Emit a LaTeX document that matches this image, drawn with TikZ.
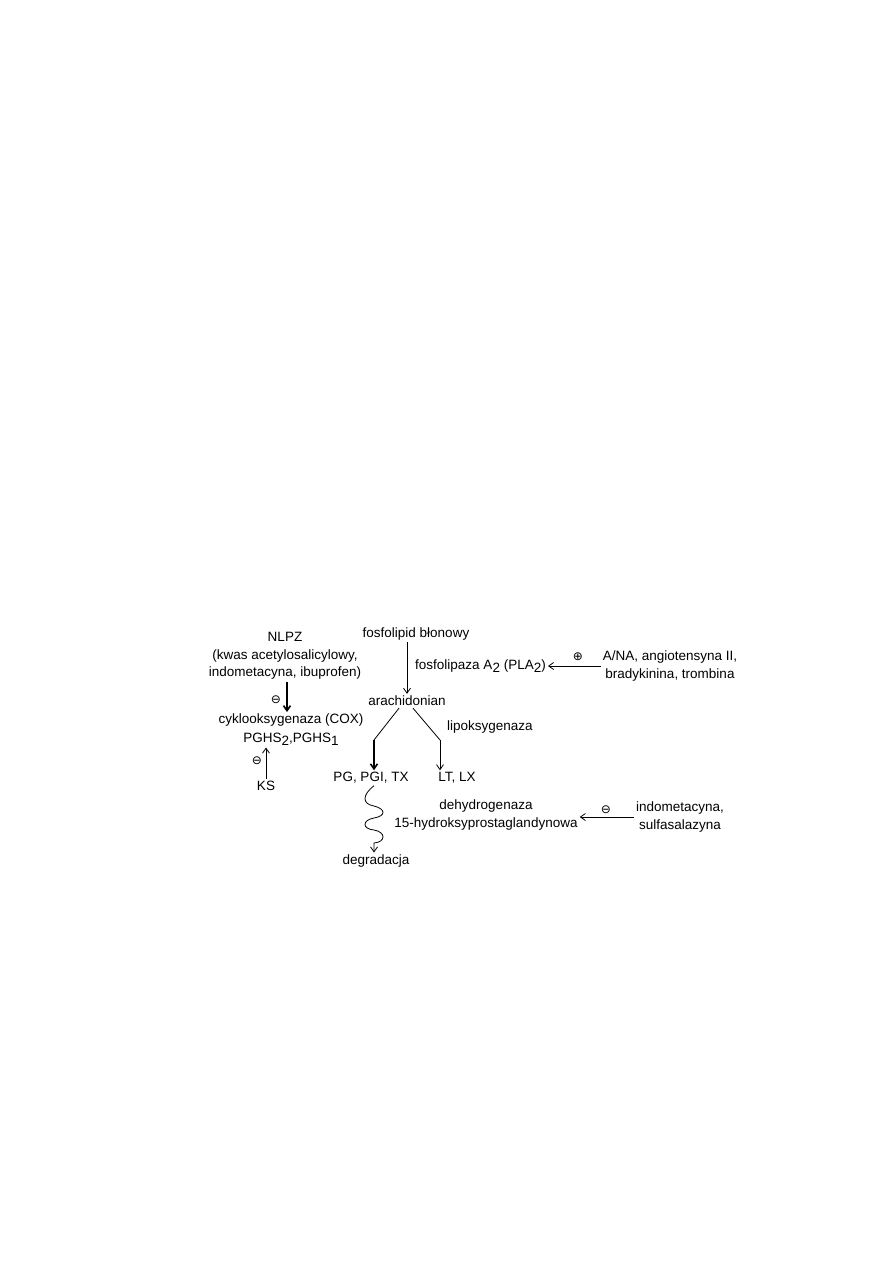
\documentclass[tikz,border=0pt]{standalone}
\usepackage{fontspec}
\setmainfont{Liberation Sans}
\newfontfamily\symfont{DejaVu Sans}
\usepackage{xcolor}
\usepackage{tikz}
\usetikzlibrary{positioning,arrows.meta,calc}
\newcommand{\lowidx}[1]{\raisebox{-0.45ex}{#1}}
\begin{document}
\begin{tikzpicture}[
  x=1pt,y=-1pt,
  font=\fontsize{13.5}{17.5}\selectfont,
  lbl/.style={inner sep=2pt,align=center},
  sgn/.style={inner sep=0pt,font=\symfont\fontsize{12}{12}\selectfont},
  arr/.style={-{Straight Barb[length=5pt,width=7pt]},line width=0.8pt,black},
  arrthick/.style={-{Straight Barb[length=5pt,width=7pt]},line width=1.6pt,black}
]
\useasboundingbox[fill=white] (0,0) rectangle (893,1263);
\node[lbl] (nlpz) at (285,656) {NLPZ\\(kwas acetylosalicylowy,\\indometacyna, ibuprofen)};
\node[lbl] (cox) at (291,720) {cyklooksygenaza (COX)};
\node[lbl] (pghs) at (291,739) {PGHS\lowidx{2},PGHS\lowidx{1}};
\node[lbl] (ks) at (266,786) {KS};
\node[lbl] (fosf) at (416,634) {fosfolipid błonowy};
\node[lbl,anchor=west] (pla) at (413,666) {fosfolipaza A\lowidx{2} (PLA\lowidx{2})};
\node[lbl] (ana) at (670,666) {A/NA, angiotensyna II,\\bradykinina, trombina};
\node[lbl] (arach) at (407,701) {arachidonian};
\node[lbl,anchor=west] (lipo) at (445,727) {lipoksygenaza};
\node[lbl] (pg) at (371,778) {PG, PGI, TX};
\node[lbl] (lt) at (457,778) {LT, LX};
\node[lbl] (dehyd) at (486,815) {dehydrogenaza\\15-hydroksyprostaglandynowa};
\node[lbl] (indo) at (680,817) {indometacyna,\\sulfasalazyna};
\node[lbl] (degr) at (376,861) {degradacja};
\node[sgn] (minusnlpz) at (276,700) {⊖};
\node[sgn] (minusks) at (257,761) {⊖};
\node[sgn] (plusana) at (578,657) {⊕};
\node[sgn] (minusindo) at (606,810) {⊖};
\coordinate (forkl) at (374,740);
\coordinate (forkr) at (440,740);
\draw[arrthick] (nlpz.south -| 287,0) -- (287,712);
\draw[arr] (ks.north) -- (ks.north |- pghs.south);
\draw[arr] (fosf.south -| arach.north) -- (arach.north);
\draw[arr] (ana.west) -- (ana.west -| pla.east);
\draw[line width=0.8pt] ([xshift=-8pt]arach.south) -- (forkl);
\draw[arrthick] (forkl) -- (pg.north -| forkl);
\draw[line width=0.8pt] ([xshift=6pt]arach.south) -- (forkr);
\draw[arr] (forkr) -- (lt.north -| forkr);
\draw[arr] (pg.south -| forkl) .. controls (362,795) and (362,804) .. (374,806)
  .. controls (386,809) and (386,816) .. (374,818)
  .. controls (362,820) and (362,829) .. (374,830)
  .. controls (386,832) and (386,842) .. (374,843) -- (degr.north -| forkl);
\draw[arr] (indo.west) -- (indo.west -| dehyd.east);
\end{tikzpicture}
\end{document}
